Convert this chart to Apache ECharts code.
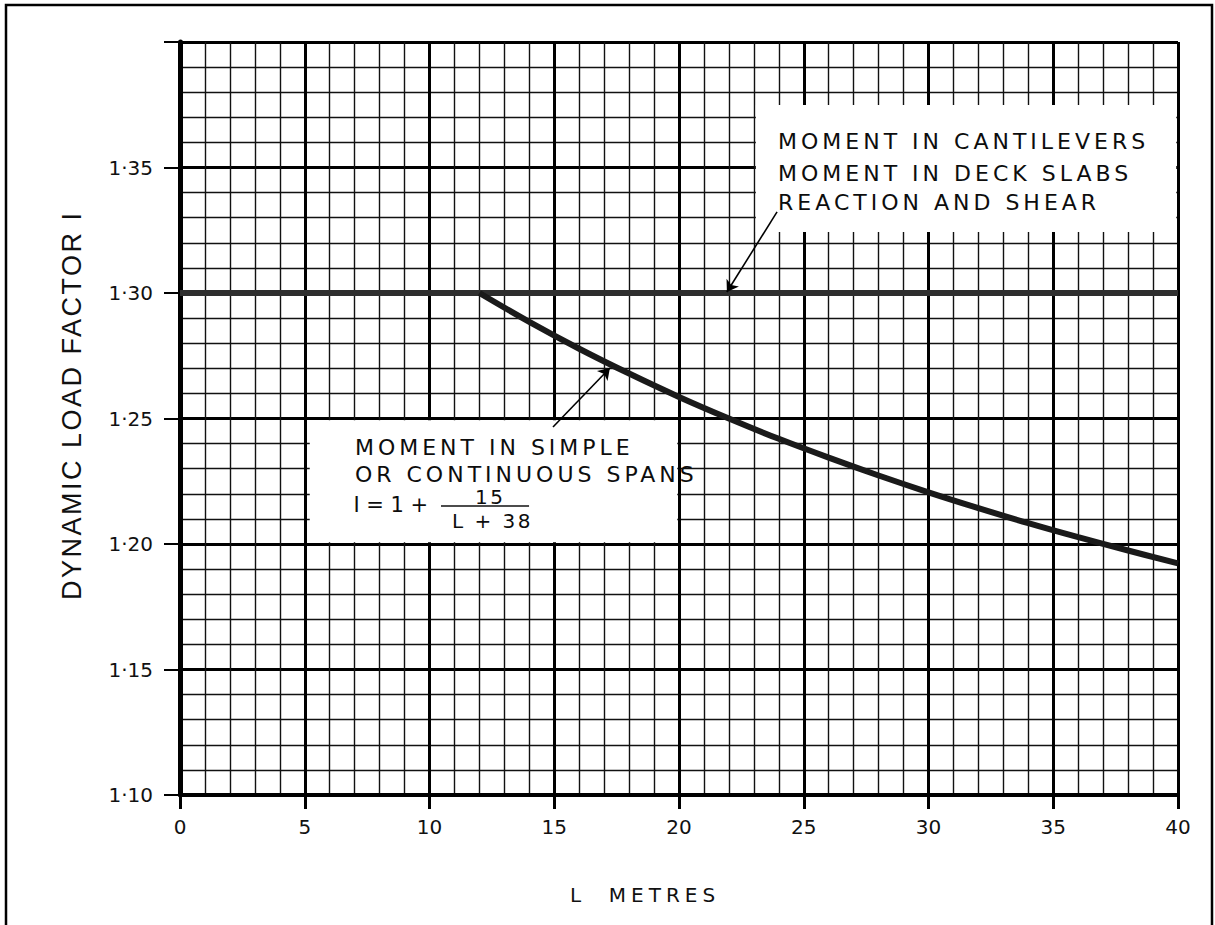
<!DOCTYPE html>
<html><head><meta charset="utf-8">
<script src="https://cdn.jsdelivr.net/npm/echarts@6/dist/echarts.min.js"></script>
<style>
html,body{margin:0;padding:0;background:#fff}
#c{width:1215px;height:925px}
svg text{white-space:pre}
text[style*="lsA"]{letter-spacing:4px}
text[style*="lsB"]{letter-spacing:5px}
text[style*="lsC"]{letter-spacing:2.5px}
</style></head><body><div id="c"></div>
<script>
// ---- data ----
const xTickLabels = ['0','5','10','15','20','25','30','35','40'];
const yTickLabels = ['1·10','1·15','1·20','1·25','1·30','1·35',''];
const flatL = [0, 40];
const flatI = [1.30, 1.30];
const curveL = [12, 14, 16, 18, 20, 22, 24, 26, 28, 30, 32, 34, 36, 38, 40];
const curveI = [1.3000, 1.2885, 1.2778, 1.2679, 1.2586, 1.2500, 1.2419, 1.2344, 1.2273, 1.2206, 1.2143, 1.2083, 1.2027, 1.1974, 1.1923];
const noteTop = ['MOMENT IN CANTILEVERS', 'MOMENT IN DECK SLABS', 'REACTION AND SHEAR'];
const noteBottom = ['MOMENT IN SIMPLE', 'OR CONTINUOUS SPANS'];
const formulaLeft = 'I = 1 +';
const formulaNum = '15';
const formulaDen = 'L + 38';
const xName = 'L  METRES';
const yName = 'DYNAMIC LOAD FACTOR I';

const chart = echarts.init(document.getElementById('c'), null, {renderer: 'svg'});
const TICKFONT = 'DejaVu Sans';
const NOTEFONT = 'DejaVu Sans, lsA';

const option = {
  backgroundColor: '#fff',
  animation: false,
  grid: {left: 180, right: 37, top: 42, bottom: 130, show: false},
  xAxis: {
    type: 'value', min: 0, max: 40, interval: 5,
    axisLine: {show: true, onZero: false, lineStyle: {color: '#000', width: 4}},
    axisTick: {show: true, length: 14, lineStyle: {color: '#000', width: 3}},
    axisLabel: {fontFamily: TICKFONT, fontSize: 20, color: '#111', margin: 22,
      formatter: (v, i) => xTickLabels[i]},
    splitLine: {show: true, lineStyle: {color: '#000', width: 3}},
    minorTick: {show: false, splitNumber: 5},
    minorSplitLine: {show: true, lineStyle: {color: '#111', width: 1.4}}
  },
  yAxis: {
    type: 'value', min: 1.10, max: 1.40, interval: 0.05,
    axisLine: {show: true, onZero: false, lineStyle: {color: '#000', width: 5}},
    axisTick: {show: true, length: 16, lineStyle: {color: '#000', width: 2}},
    axisLabel: {fontFamily: TICKFONT, fontSize: 20, color: '#111', margin: 27,
      formatter: (v, i) => yTickLabels[i]},
    splitLine: {show: true, lineStyle: {color: '#000', width: 3}},
    minorTick: {show: false, splitNumber: 5},
    minorSplitLine: {show: true, lineStyle: {color: '#111', width: 1.4}}
  },
  series: [
    {
      type: 'line', name: 'flat', symbol: 'none', z: 4,
      data: flatL.map((x, i) => [x, flatI[i]]),
      lineStyle: {color: '#2e2e2e', width: 6},
      markArea: {
        silent: true,
        itemStyle: {color: '#fff', borderWidth: 0},
        data: [
          [{coord: [23.08, 1.3243]}, {coord: [39.93, 1.3749]}],
          [{coord: [5.2, 1.2007]}, {coord: [19.93, 1.2493]}]
        ]
      }
    },
    {
      type: 'line', name: 'curve', symbol: 'none', smooth: 0.4, z: 5,
      data: curveL.map((x, i) => [x, curveI[i]]),
      lineStyle: {color: '#1a1a1a', width: 6, cap: 'butt'}
    },
    {
      type: 'lines', coordinateSystem: 'cartesian2d', z: 6,
      symbol: ['none', 'arrow'], symbolSize: 11,
      lineStyle: {color: '#000', width: 1.6, opacity: 1},
      data: [
        {coords: [[23.93, 1.3323], [21.92, 1.3004]]},
        {coords: [[14.95, 1.2466], [17.23, 1.2701]]}
      ]
    }
  ]
};
chart.setOption(option);

function px(x, y) { return chart.convertToPixel({gridIndex: 0}, [x, y]); }
const g = [];
function txt(pt, text, font, size, align) {
  g.push({type: 'text', x: pt[0], y: pt[1], z: 20,
    style: {text: text, fontFamily: font, fontSize: size, fill: '#0d0d0d',
      textAlign: align || 'left', textVerticalAlign: 'middle'}});
}
const topY = [1.3602, 1.3478, 1.3359];
noteTop.forEach((t, i) => txt(px(23.97, topY[i]), t, NOTEFONT, 22));
const botY = [1.2386, 1.2275];
noteBottom.forEach((t, i) => txt(px(7.01, botY[i]), t, NOTEFONT, 22));
txt(px(6.95, 1.2155), formulaLeft, 'DejaVu Sans', 21);
txt(px(11.82, 1.2187), formulaNum, 'DejaVu Sans, lsC', 20);
txt(px(10.90, 1.2092), formulaDen, 'DejaVu Sans, lsC', 20);
const b1 = px(10.46, 1.2151), b2 = px(13.99, 1.2151);
g.push({type: 'line', z: 20, shape: {x1: b1[0], y1: b1[1], x2: b2[0], y2: b2[1]},
  style: {stroke: '#111', lineWidth: 1.5}});
// axis names
g.push({type: 'text', x: 570, y: 895, z: 20,
  style: {text: xName, fontFamily: 'DejaVu Sans, lsB', fontSize: 20, fill: '#111',
    textAlign: 'left', textVerticalAlign: 'middle'}});
g.push({type: 'text', x: 72, y: 600, rotation: Math.PI / 2, z: 20,
  style: {text: yName, fontFamily: 'Liberation Sans, lsC', fontSize: 27, fill: '#111',
    textAlign: 'left', textVerticalAlign: 'middle'}});
// outer frame
g.push({type: 'rect', z: 1, shape: {x: 6, y: 5, width: 1206, height: 940},
  style: {fill: 'none', stroke: '#000', lineWidth: 2.5}});
chart.setOption({graphic: g});
</script></body></html>
